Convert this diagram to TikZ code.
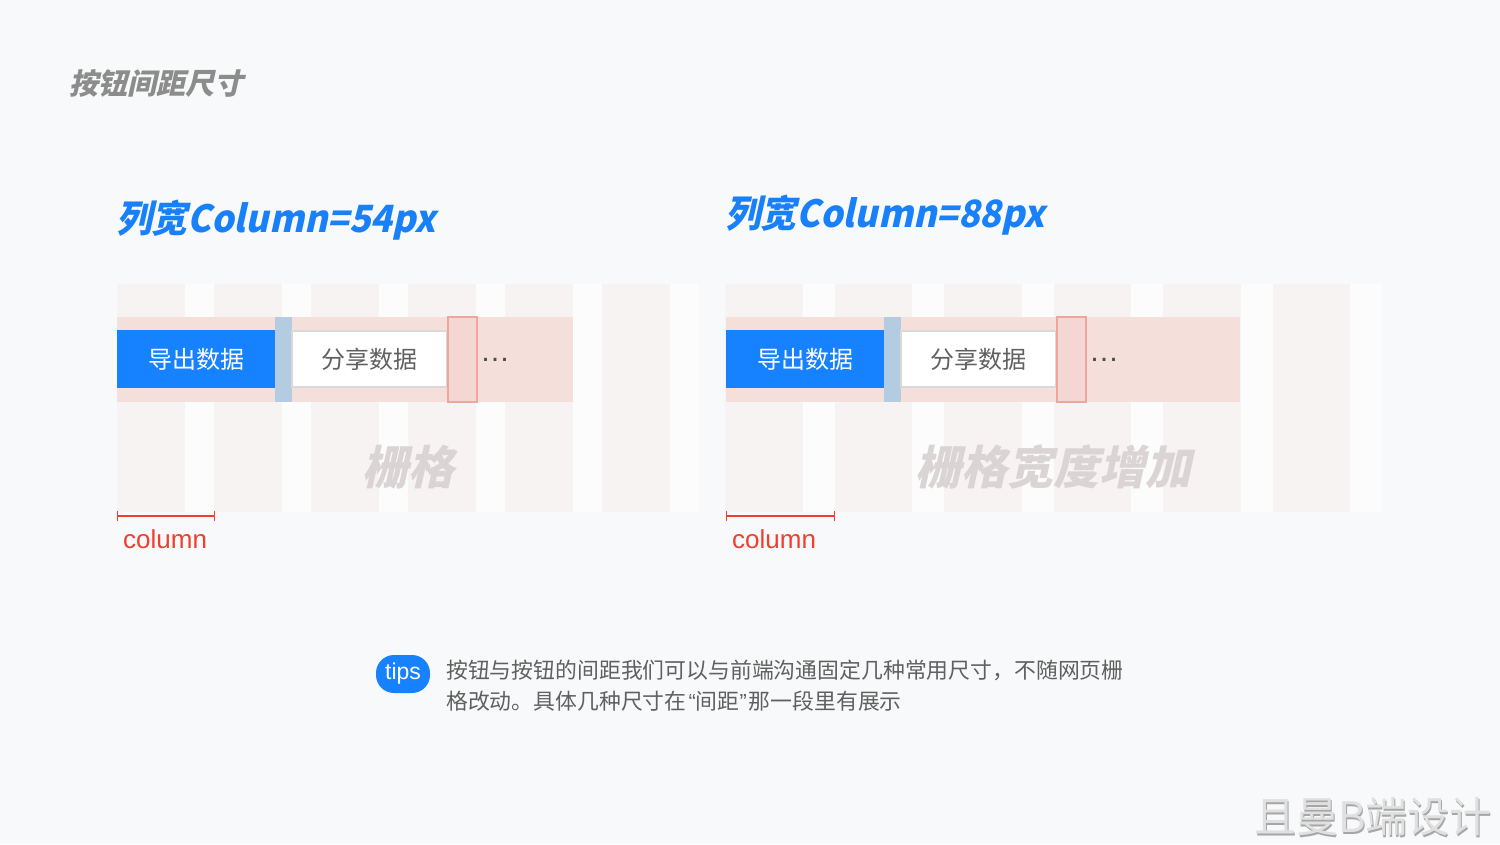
\documentclass[tikz,border=0pt]{standalone}
\usepackage{fontspec}
\setmainfont{Noto Sans CJK SC}
\newfontfamily\slfont{Noto Sans CJK SC}[FakeSlant=0.22]
\newfontfamily\titlefont{Noto Sans CJK SC}[FakeSlant=0.22, FakeStretch=0.95]
\newfontfamily\arialf{Liberation Sans}
\definecolor{bg}{HTML}{F8F9FA}
\definecolor{gridbg}{HTML}{FCFCFC}
\definecolor{colfill}{HTML}{F8F3F3}
\definecolor{bandc}{HTML}{F4DFDB}
\definecolor{btnblue}{HTML}{1782FF}
\definecolor{gapblue}{HTML}{B3CCE2}
\definecolor{redfill}{HTML}{F4D7D3}
\definecolor{redline}{HTML}{EEA59D}
\definecolor{markred}{HTML}{EE3F2F}
\definecolor{titleblue}{HTML}{1880F8}
\definecolor{headgray}{HTML}{8C8C8C}
\definecolor{wmgray}{HTML}{DAD4D4}
\definecolor{txtgray}{HTML}{606060}
\tikzset{
  box/.style={anchor=north west, inner sep=0pt, outer sep=0pt},
  bandbox/.style={box, fill=bandc},
  bluebtn/.style={box, fill=btnblue, text=white, font=\fontsize{24}{28}\selectfont},
  gapbar/.style={box, fill=gapblue},
  whitebtn/.style={box, fill=white, draw=black!15, line width=1.2pt, text=txtgray, font=\fontsize{24}{28}\selectfont},
  redbox/.style={box, fill=redfill, draw=redline, line width=1.3pt},
  dotsnode/.style={anchor=base, inner sep=0pt, text=black!70, font=\arialf\fontsize{30}{32}\selectfont},
  bigtitle/.style={anchor=west, inner sep=0pt, text=titleblue, font=\titlefont\bfseries\fontsize{37.5}{44}\selectfont},
  watermark/.style={inner sep=0pt, text=wmgray, font=\slfont\bfseries\fontsize{46}{50}\selectfont},
  marker/.style={draw=markred, line width=1.3pt, {|-|}},
  coltext/.style={anchor=west, inner sep=0pt, text=markred, font=\arialf\fontsize{26}{28}\selectfont},
}
\begin{document}
\begin{tikzpicture}[x=1pt,y=-1pt]
\fill[bg] (0,0) rectangle (1500,844);
\useasboundingbox (0,0) rectangle (1500,844);

% heading
\node[anchor=west, inner sep=0pt, text=headgray, font=\slfont\bfseries\fontsize{29}{32}\selectfont] (head) at (69,83) {按钮间距尺寸};

% ---------- left panel ----------
\node[bigtitle] (titleL) at (116,220) {列宽Column=54px};
\fill[gridbg] (117,284) rectangle (699,512);
\foreach \i in {0,...,5} \fill[colfill] ({117+97*\i},284) rectangle ++(68,228);
\node[bandbox, minimum width=456pt, minimum height=85pt] (bandL) at (117,317) {};
\node[bluebtn, minimum width=158pt, minimum height=58pt] (btnL) at (117,330) {导出数据};
\node[gapbar, minimum width=17pt, minimum height=85pt] (gapL) at (275,317) {};
\node[whitebtn, minimum width=155pt, minimum height=56pt] (shareL) at (292,331) {分享数据};
\node[redbox, minimum width=29pt, minimum height=85pt] (redL) at (448,317) {};
\node[dotsnode] (dotsL) at (495,361) {…};
\node[watermark] (wmL) at (408,467) {栅格};
\coordinate (mL1) at (117,516);
\coordinate (mL2) at (215,516);
\draw[marker] (mL1) -- (mL2);
\node[coltext] (colL) at (123,539) {column};

% ---------- right panel ----------
\node[bigtitle] (titleR) at (725,215) {列宽Column=88px};
\fill[gridbg] (725,284) rectangle (1382,512);
\foreach \i in {0,...,5} \fill[colfill] ({725+109.5*\i},284) rectangle ++(77.5,228);
\node[bandbox, minimum width=514pt, minimum height=85pt] (bandR) at (726,317) {};
\node[bluebtn, minimum width=158pt, minimum height=58pt] (btnR) at (726,330) {导出数据};
\node[gapbar, minimum width=17pt, minimum height=85pt] (gapR) at (884,317) {};
\node[whitebtn, minimum width=155pt, minimum height=56pt] (shareR) at (901,331) {分享数据};
\node[redbox, minimum width=29pt, minimum height=85pt] (redR) at (1057,317) {};
\node[dotsnode] (dotsR) at (1104,361) {…};
\node[watermark] (wmR) at (1053,467) {栅格宽度增加};
\coordinate (mR1) at (726,516);
\coordinate (mR2) at (835,516);
\draw[marker] (mR1) -- (mR2);
\node[coltext] (colR) at (732,539) {column};

% ---------- tips ----------
\node[fill=btnblue, rounded corners=18pt, minimum width=54pt, minimum height=38pt, inner sep=0pt, text=white, font=\arialf\fontsize{23}{26}\selectfont] (tips) at (403,674) {tips};
\node[anchor=north west, inner sep=0pt, text=txtgray, align=left, font=\fontsize{21.85}{31}\selectfont] (tipstext) at (446,660) {按钮与按钮的间距我们可以与前端沟通固定几种常用尺寸，不随网页栅\\格改动。具体几种尺寸在\kern2pt{\arialf“}间距{\arialf”}\kern2pt那一段里有展示};

% ---------- brand watermark ----------
\node[anchor=east, inner sep=0pt, text=black!35, font=\fontsize{42}{46}\selectfont] (brandsh) at (1493,819) {且曼B端设计};
\node[anchor=east, inner sep=0pt, text=black!12, font=\fontsize{42}{46}\selectfont] (brand) at (1492,817) {且曼B端设计};
\end{tikzpicture}
\end{document}
